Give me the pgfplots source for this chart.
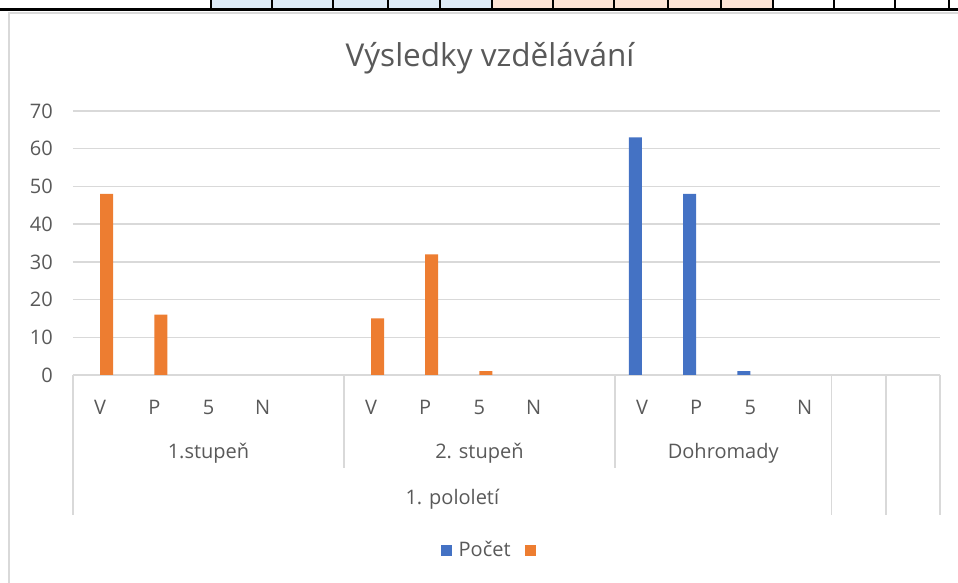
\documentclass[border=0pt]{standalone}
\usepackage{fontspec}
\setmainfont{Open Sans}
\usepackage{pgfplots}
\pgfplotsset{compat=1.18}
\definecolor{txt}{HTML}{595959}
\definecolor{gridg}{HTML}{D9D9D9}
\definecolor{sblue}{HTML}{4472C4}
\definecolor{sorange}{HTML}{ED7D31}
\definecolor{cellblue}{HTML}{DDEBF7}
\definecolor{cellorange}{HTML}{FCE4D6}
\pgfplotsset{sq legend/.style={legend image code/.code={\fill[##1] (0pt,-5.5pt) rectangle (11pt,5.5pt);}}}
\begin{document}
\begin{tikzpicture}
\useasboundingbox (0,0) rectangle (958pt,583pt);
% spreadsheet strip at top
\fill[cellblue] (211pt,574pt) rectangle (492pt,583pt);
\fill[cellorange] (492pt,574pt) rectangle (773pt,583pt);
\foreach \xx in {211,272,333,388,440,492,553,614,668,721,773,834,895,949}
  \draw[black, line width=1.5pt] (\xx pt,573pt) -- (\xx pt,583pt);
\draw[black, line width=3pt] (0pt,573pt) -- (958pt,573pt);
% chart frame
\draw[gridg, line width=1.5pt] (9pt,0pt) -- (9pt,570pt) -- (958pt,570pt);
% title
\node[font=\fontsize{31.5}{38}\selectfont, text=txt] at (490pt,525pt) {Výsledky vzdělávání};
\begin{axis}[
  at={(73pt,208pt)}, anchor=south west,
  scale only axis, width=867pt, height=264pt,
  clip=false,
  ybar=0pt, bar width=13pt,
  xmin=-0.5, xmax=15.5, ymin=0, ymax=70,
  axis x line=bottom, axis y line=left,
  x axis line style={-, draw=gridg, line width=1.5pt},
  y axis line style={draw=none},
  ytick={0,10,...,70},
  xtick={0,1,2,3,5,6,7,8,10,11,12,13},
  xticklabels={V,P,5,N,V,P,5,N,V,P,5,N},
  major tick length=0pt,
  ymajorgrids, major grid style={gridg, line width=1.5pt},
  tick label style={font=\fontsize{20}{24}\selectfont, text=txt},
  /pgf/number format/assume math mode=true,
  xticklabel style={anchor=center, yshift=-32pt},
  yticklabel style={anchor=east, inner sep=0pt, xshift=-20pt},
  legend columns=2,
  legend style={at={(0.484,-0.663)}, anchor=center, draw=none, fill=none,
    font=\fontsize{20}{24}\selectfont, text=txt, column sep=12pt,
    /tikz/every odd column/.append style={column sep=5pt}},
]
\addplot[fill=sblue, draw=none, sq legend] coordinates {(10,63) (11,48) (12,1)};
\addlegendentry{Počet}
\addplot[fill=sorange, draw=none, sq legend] coordinates {(0,48) (1,16) (5,15) (6,32) (7,1)};
\addlegendentry{\mbox{}}
% category separators
\draw[gridg, line width=1.5pt] (axis cs:-0.5,0) -- ++(0pt,-140pt);
\draw[gridg, line width=1.5pt] (axis cs:4.5,0) -- ++(0pt,-93pt);
\draw[gridg, line width=1.5pt] (axis cs:9.5,0) -- ++(0pt,-93pt);
\draw[gridg, line width=1.5pt] (axis cs:13.5,0) -- ++(0pt,-140pt);
\draw[gridg, line width=1.5pt] (axis cs:14.5,0) -- ++(0pt,-140pt);
\draw[gridg, line width=1.5pt] (axis cs:15.5,0) -- ++(0pt,-140pt);
% group labels
\node[font=\fontsize{20}{24}\selectfont, text=txt, yshift=-78pt] at (axis cs:2,0) {1.stupeň};
\node[font=\fontsize{20}{24}\selectfont, text=txt, yshift=-78pt] at (axis cs:7,0) {2. stupeň};
\node[font=\fontsize{20}{24}\selectfont, text=txt, yshift=-78pt] at (axis cs:11.5,0) {Dohromady};
\node[font=\fontsize{20}{24}\selectfont, text=txt, yshift=-124pt] at (axis cs:6.5,0) {1. pololetí};
\end{axis}
\end{tikzpicture}
\end{document}
